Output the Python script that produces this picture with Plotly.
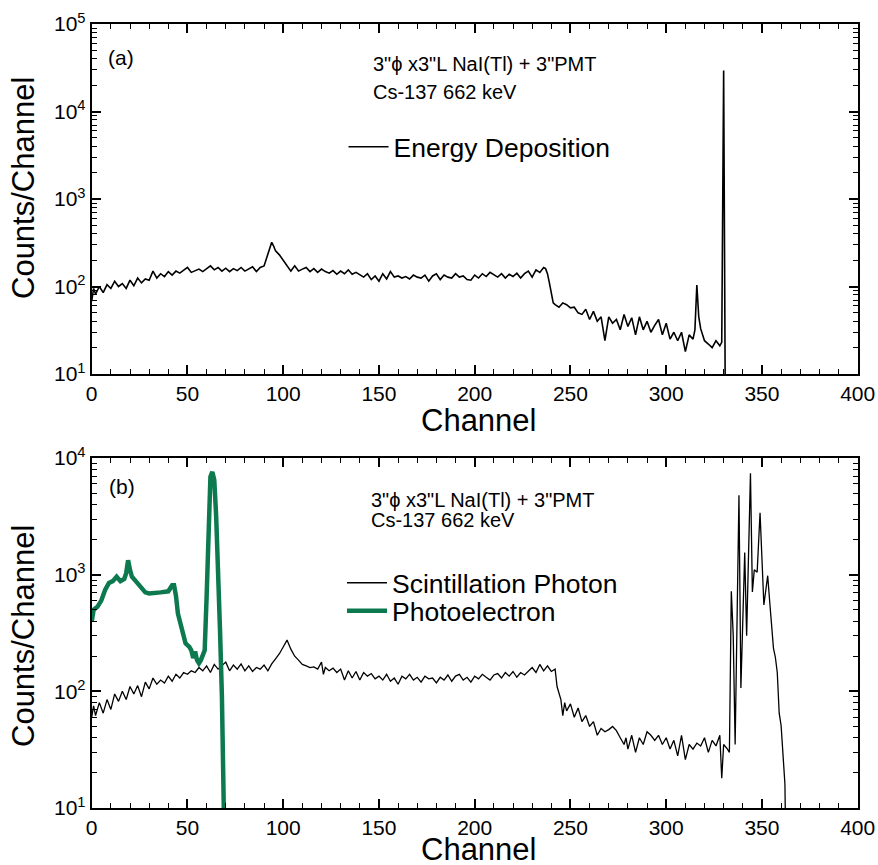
import plotly.graph_objects as go

# ---------------- data ----------------
# Panel (a): Energy Deposition
ch_a = [0, 1, 2, 4, 6, 8, 10, 12, 14, 16, 18, 20, 22, 24, 26, 28, 30, 32, 34, 36, 38,
        40, 42, 44, 46, 48, 50, 52, 54, 56, 58, 60, 62, 64, 66, 68, 70, 72, 74, 76, 78,
        80, 82, 84, 86, 88, 90, 92, 94, 95, 96, 98, 100, 102, 104, 106, 108, 110, 112,
        114, 116, 118, 120, 122, 124, 126, 128, 130, 132, 134, 136, 138, 140, 142, 144,
        146, 148, 150, 152, 154, 156, 158, 160, 162, 164, 166, 168, 170, 172, 174, 176,
        178, 180, 182, 184, 186, 188, 190, 192, 194, 196, 198, 200, 202, 204, 206, 208,
        210, 212, 214, 216, 218, 220, 222, 224, 226, 228, 230, 232, 234, 236, 237, 238,
        239, 240, 241, 242, 244, 246, 248, 250, 252, 254, 256, 258, 260, 262, 264, 266,
        268, 270, 272, 274, 276, 278, 280, 282, 284, 286, 288, 290, 292, 294, 296, 298,
        300, 302, 304, 306, 308, 310, 312, 314, 315, 316, 317, 318, 320, 322, 324, 326,
        328, 329, 330, 331]
counts_a = [68, 95, 82, 100, 85, 105, 95, 115, 100, 108, 95, 118, 102, 125, 110, 122, 118, 150, 125, 140, 130,
            148, 135, 150, 142, 155, 165, 145, 152, 158, 148, 160, 172, 155, 165, 150, 162, 148, 160, 152, 165,
            150, 158, 168, 148, 165, 172, 230, 320, 290, 255, 230, 200, 170, 150, 172, 150, 158, 165,
            148, 160, 145, 158, 148, 142, 152, 138, 150, 140, 155, 138, 145, 135, 128, 140,
            120, 132, 115, 140, 122, 148, 128, 132, 125, 130, 122, 135, 128, 125, 135, 115,
            132, 140, 120, 135, 128, 125, 140, 128, 132, 120, 118, 135, 125, 140, 130, 145,
            135, 128, 140, 125, 138, 130, 142, 125, 140, 150, 128, 155, 145, 165, 160, 140,
            110, 85, 65, 62, 58, 65, 62, 57, 58, 50, 48, 55, 42, 52, 40, 45,
            24, 45, 38, 42, 32, 48, 35, 44, 28, 45, 32, 40, 30, 36, 42, 28,
            38, 25, 30, 24, 30, 18, 28, 25, 32, 104, 45, 33, 24, 22, 20, 24,
            21, 23, 29500, 1]

# Panel (b): Scintillation Photon
ch_b = [0, 1, 2, 4, 6, 8, 10, 12, 14, 16, 18, 20, 22, 24, 26, 28, 30, 32, 34, 36, 38,
        40, 42, 44, 46, 48, 50, 52, 54, 56, 58, 60, 62, 64, 66, 68, 70, 72, 74, 76, 78,
        80, 82, 84, 86, 88, 90, 92, 94, 96, 98, 100, 102, 104, 106, 108, 110, 112, 114,
        116, 118, 120, 121, 122, 124, 126, 128, 130, 132, 134, 136, 138, 140, 142, 144,
        146, 148, 150, 152, 154, 156, 158, 160, 162, 164, 166, 168, 170, 172, 174, 176,
        178, 180, 182, 184, 186, 188, 190, 192, 194, 196, 198, 200, 202, 204, 206, 208,
        210, 212, 214, 216, 218, 220, 222, 224, 226, 228, 230, 232, 234, 236, 238, 240,
        242, 243, 244, 245, 246, 247, 248, 250, 252, 254, 256, 258, 260, 262, 264, 266,
        268, 270, 272, 274, 276, 278, 279, 280, 282, 284, 286, 288, 290, 292, 294, 296,
        298, 300, 302, 304, 306, 308, 310, 312, 314, 316, 318, 320, 322, 324, 326, 328,
        329, 330, 332, 333, 334, 335, 336, 338, 339, 341, 342, 344, 345, 346, 347.5, 349,
        351, 353, 354, 356, 357, 358, 359, 360, 362, 363]
counts_b = [60, 75, 62, 80, 65, 85, 70, 95, 82, 100, 85, 110, 95, 112, 90, 120, 105, 130, 115, 125, 118,
            135, 122, 140, 130, 145, 140, 150, 145, 160, 150, 165, 145, 170, 155, 165, 178, 150, 168, 155, 172,
            150, 165, 148, 160, 155, 168, 150, 172, 190, 210, 240, 275, 230, 200, 185, 170, 165, 160,
            162, 155, 178, 140, 160, 150, 158, 145, 155, 125, 150, 130, 148, 125, 145, 135,
            142, 128, 135, 125, 140, 122, 130, 115, 135, 128, 140, 125, 132, 120, 135, 128,
            130, 118, 132, 125, 138, 122, 135, 140, 125, 132, 120, 135, 128, 140, 132, 125,
            138, 142, 130, 145, 135, 148, 132, 145, 138, 150, 160, 145, 170, 150, 165, 148,
            155, 110, 95, 85, 62, 80, 68, 78, 60, 72, 55, 62, 50, 55, 42, 48,
            45, 47, 50, 46, 40, 35, 40, 32, 42, 30, 40, 35, 45, 42, 38, 42,
            35, 40, 32, 38, 28, 42, 26, 35, 32, 36, 34, 40, 30, 38, 34, 42,
            18, 35, 32, 30, 720, 300, 35, 4800, 107, 1550, 300, 7400, 710, 1100, 1050, 3400,
            550, 980, 600, 235, 196, 145, 65, 51, 16, 1]

# Panel (b): Photoelectron
ch_pe = [0, 1, 3, 5, 7, 9, 11, 13, 15, 17, 18, 19, 20, 21, 23, 26, 28, 30, 33, 36, 40,
         42, 43, 44, 45, 47, 48, 49, 51, 52, 53, 54, 55, 56, 57, 58, 59, 60, 61, 62,
         63, 64, 65, 66, 67, 68, 69, 70]
counts_pe = [396, 500, 530, 600, 740, 850, 880, 960, 880, 920, 1030, 1330, 1100, 960, 880, 780, 705, 690, 690, 705, 720,
             810, 810, 660, 465, 355, 315, 258, 240, 225, 193, 220, 185, 174, 185, 200, 225, 640, 3400, 6900,
             7600, 6500, 3150, 1250, 335, 90, 30, 1]

x_ticks = [0, 50, 100, 150, 200, 250, 300, 350, 400]
y_ticks_a = [10, 100, 1000, 10000, 100000]
y_text_a = ["10<sup>1</sup>", "10<sup>2</sup>", "10<sup>3</sup>", "10<sup>4</sup>", "10<sup>5</sup>"]
y_ticks_b = [10, 100, 1000, 10000]
y_text_b = ["10<sup>1</sup>", "10<sup>2</sup>", "10<sup>3</sup>", "10<sup>4</sup>"]

# ---------------- figure ----------------
W, H = 878, 865
FONT = "Arial, 'Liberation Sans', Helvetica, sans-serif"
GREEN = "#0c7a4e"


def px(x):
    return x / W


def py(y):
    return 1 - y / H


fig = go.Figure()
fig.add_trace(go.Scatter(x=ch_a, y=counts_a, mode="lines", name="Energy Deposition",
                         line=dict(color="black", width=1.6), xaxis="x", yaxis="y",
                         legend="legend", showlegend=True))
fig.add_trace(go.Scatter(x=ch_b, y=counts_b, mode="lines", name="Scintillation Photon",
                         line=dict(color="black", width=1.3), xaxis="x2", yaxis="y2",
                         legend="legend2", showlegend=True))
fig.add_trace(go.Scatter(x=ch_pe, y=counts_pe, mode="lines", name="Photoelectron",
                         line=dict(color=GREEN, width=4.5), xaxis="x2", yaxis="y2",
                         legend="legend3", showlegend=True))

minor_log = [m * 10 ** e for e in range(1, 5) for m in range(2, 10)]

xcommon = dict(range=[0, 400], tickmode="array", tickvals=x_ticks, ticks="inside",
               ticklen=9, tickwidth=1.5, tickcolor="black", showline=True, linewidth=2,
               linecolor="black", mirror="ticks", showgrid=False, zeroline=False,
               automargin=False,
               tickfont=dict(size=21, color="black", family=FONT),
               minor=dict(dtick=10, ticks="inside", ticklen=5, tickwidth=1.2,
                          tickcolor="black", showgrid=False))
ycommon = dict(type="log", ticks="inside", ticklen=9, tickwidth=1.5, tickcolor="black",
               showline=True, linewidth=2, linecolor="black", mirror="ticks",
               showgrid=False, zeroline=False, tickmode="array", automargin=False,
               tickfont=dict(size=21, color="black", family=FONT),
               minor=dict(tickmode="array", tickvals=minor_log, ticks="inside", ticklen=5,
                          tickwidth=1.2, tickcolor="black", showgrid=False))

xdom = [px(91.7), px(857.7)]
fig.update_layout(
    width=W, height=H,
    margin=dict(l=0, r=0, t=0, b=0, autoexpand=False),
    paper_bgcolor="white", plot_bgcolor="white",
    showlegend=True,
    font=dict(family=FONT, color="black"),
    xaxis=dict(domain=xdom, anchor="y", **xcommon),
    yaxis=dict(domain=[py(374), py(24)], anchor="x", range=[1, 5],
               tickvals=y_ticks_a, ticktext=y_text_a, **ycommon),
    xaxis2=dict(domain=xdom, anchor="y2", **xcommon),
    yaxis2=dict(domain=[py(808), py(458)], anchor="x2", range=[1, 4],
                tickvals=y_ticks_b, ticktext=y_text_b, **ycommon),
    legend=dict(x=px(343.5), y=py(147), xanchor="left", yanchor="middle",
                bgcolor="rgba(0,0,0,0)", borderwidth=0, itemwidth=40,
                font=dict(size=26.5, family=FONT, color="black")),
    legend2=dict(x=px(342), y=py(583), xanchor="left", yanchor="middle",
                 bgcolor="rgba(0,0,0,0)", borderwidth=0, itemwidth=40,
                 font=dict(size=26.5, family=FONT, color="black")),
    legend3=dict(x=px(342), y=py(611), xanchor="left", yanchor="middle",
                 bgcolor="rgba(0,0,0,0)", borderwidth=0, itemwidth=40,
                 font=dict(size=26.5, family=FONT, color="black")),
)

ann = []


def add_text(text, x, y, size, xanchor="left", angle=0):
    ann.append(dict(text=text, x=px(x), y=py(y), xref="paper", yref="paper",
                    xanchor=xanchor, yanchor="middle", showarrow=False, textangle=angle,
                    font=dict(size=size, family=FONT, color="black")))


# panel labels and info text
add_text("(a)", 106, 57, 21)
add_text("(b)", 107, 486, 21)
add_text("3\"ϕ x3\"L NaI(Tl) + 3\"PMT", 371, 64, 20)
add_text("Cs-137 662 keV", 371, 92, 20)
add_text("3\"ϕ x3\"L NaI(Tl) + 3\"PMT", 369, 500, 20)
add_text("Cs-137 662 keV", 369, 520, 20)
# axis titles
add_text("Channel", 478, 420, 31, xanchor="center")
add_text("Channel", 478, 849, 31, xanchor="center")
add_text("Counts/Channel", 23, 188, 31, xanchor="center", angle=-90)
add_text("Counts/Channel", 23, 636, 31, xanchor="center", angle=-90)
fig.update_layout(annotations=ann)

fig.write_html("out.html", config={"displayModeBar": False},
               post_script="document.body.style.margin='0';document.body.style.overflow='hidden';")
